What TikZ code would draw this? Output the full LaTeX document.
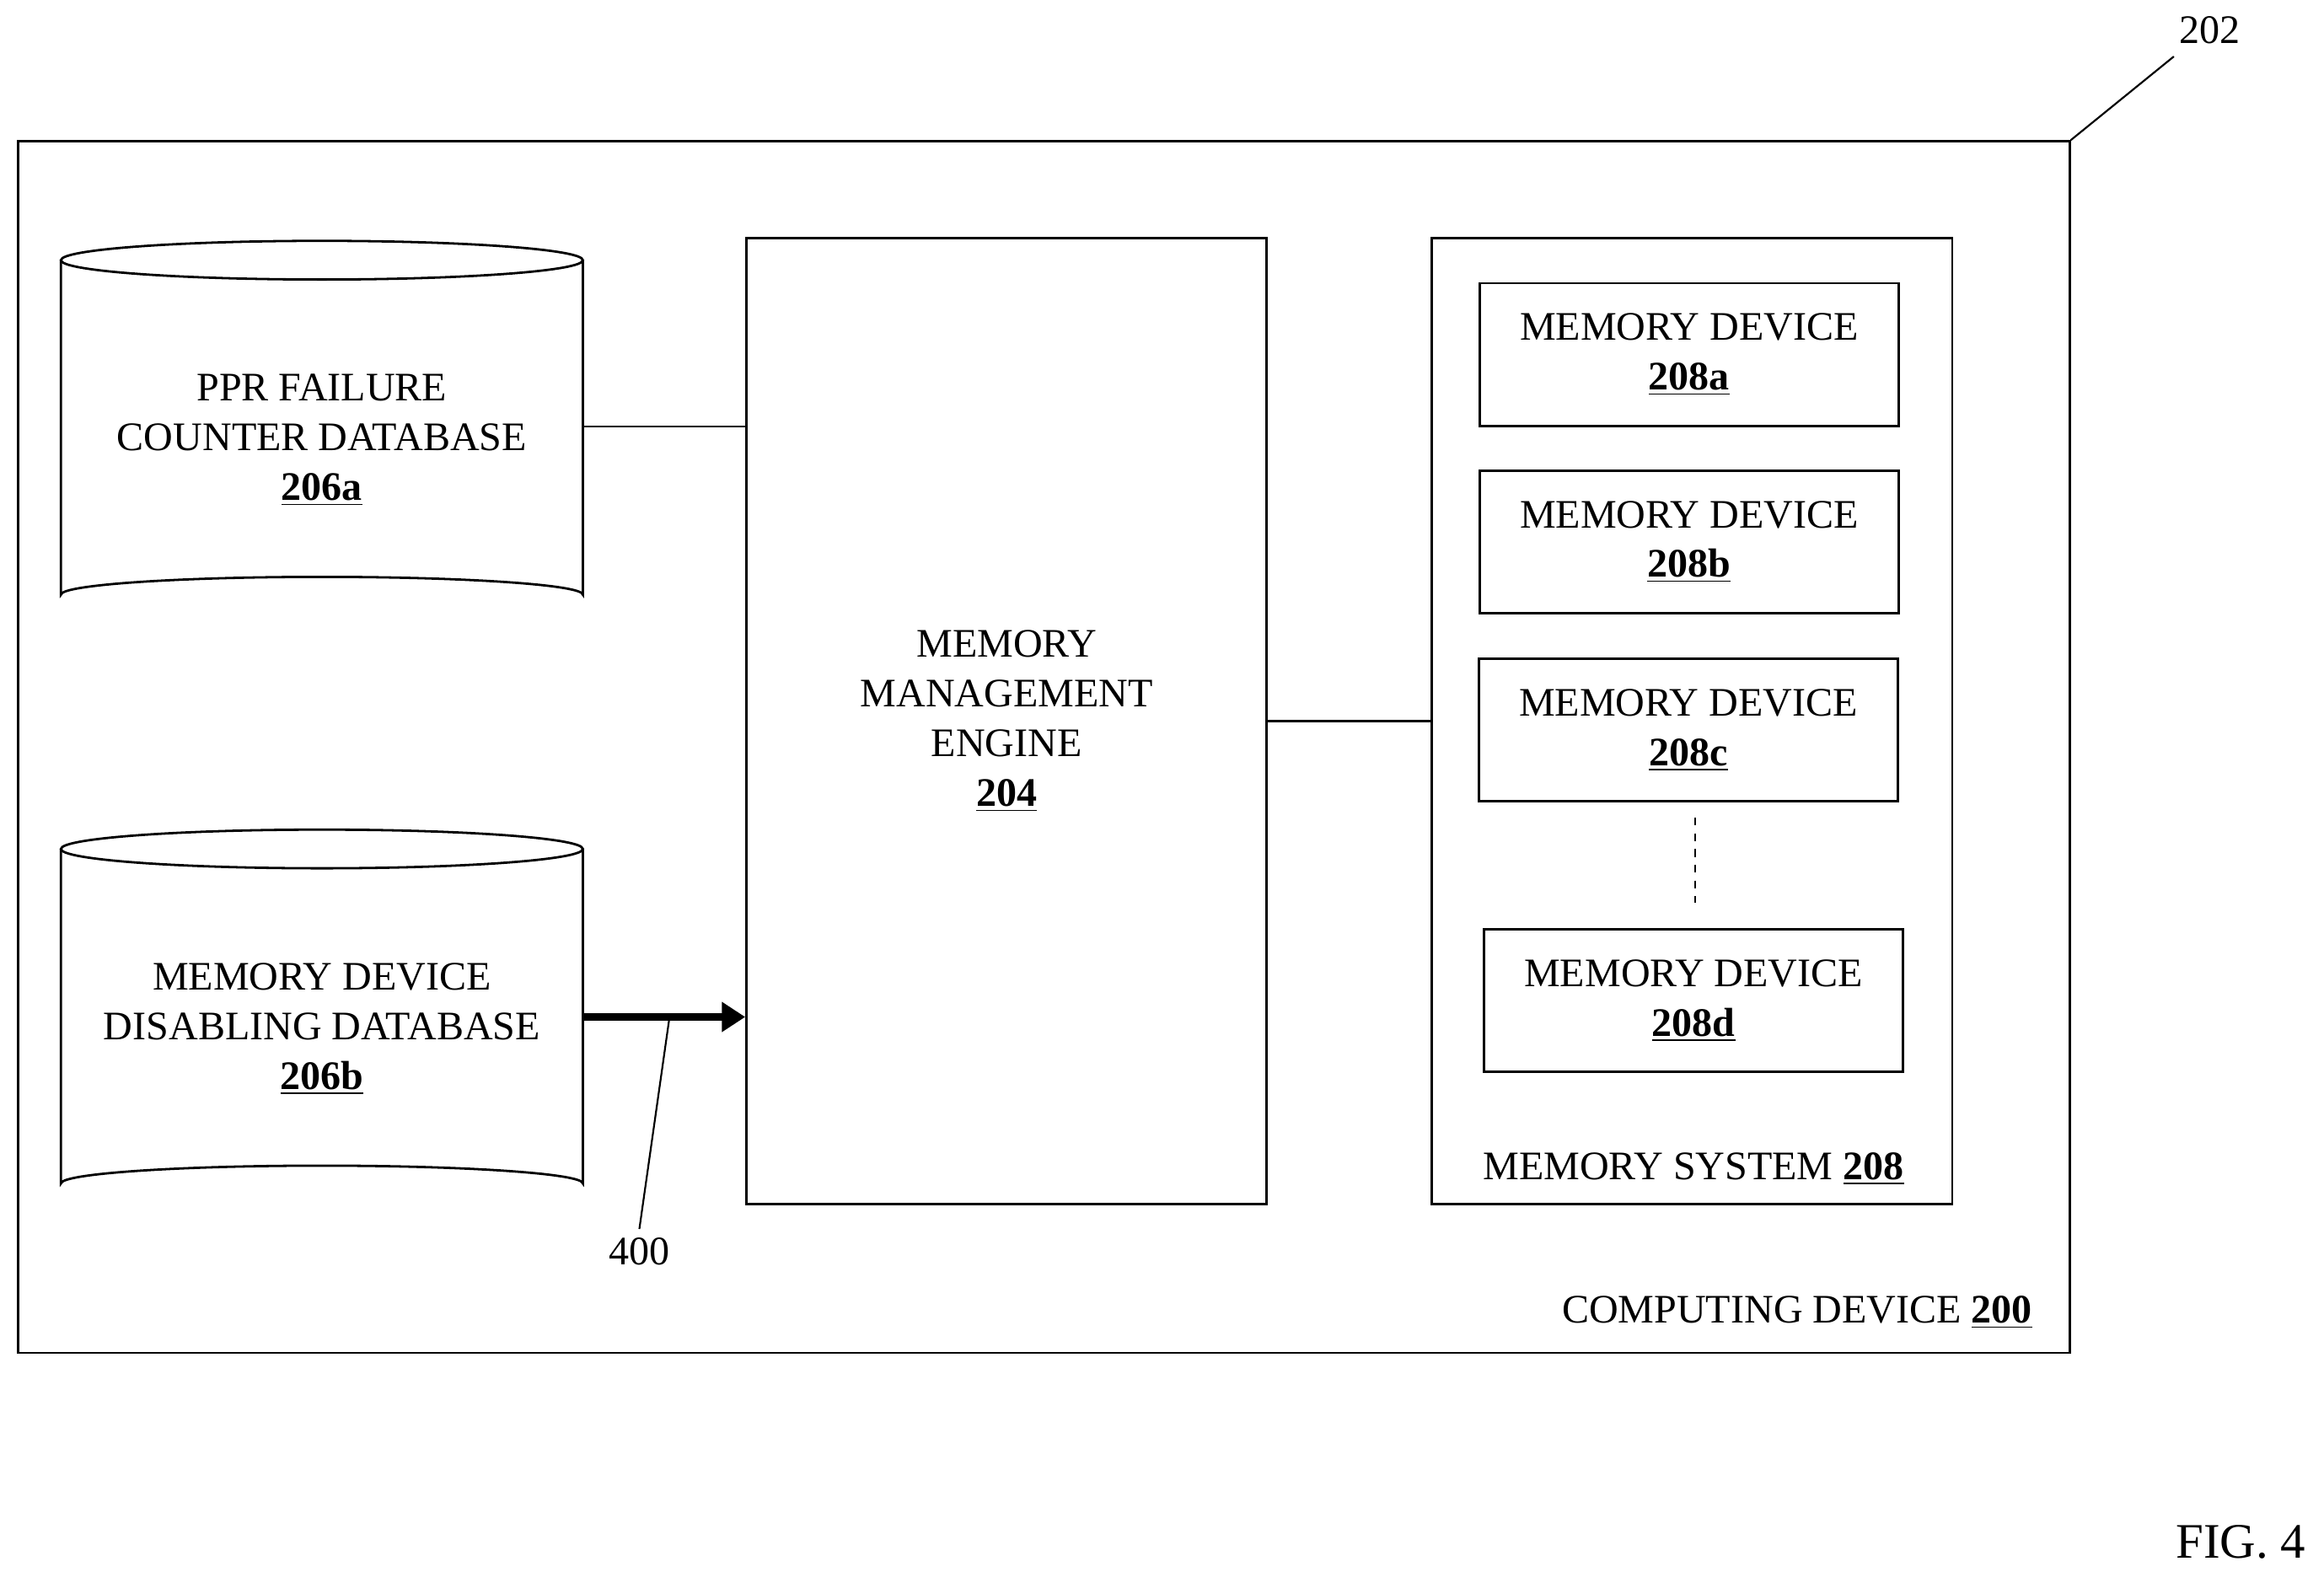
\documentclass[tikz,border=0pt]{standalone}
\usepackage{fontspec}
\setmainfont{Liberation Serif}
\usetikzlibrary{positioning,arrows.meta}
\begin{document}
\begin{tikzpicture}[x=0.02cm,y=-0.02cm,font=\fontsize{15.5}{19}\selectfont]
    \tikzstyle{box} = [draw, line width=0.9pt, rectangle, align=center, inner sep=0pt]
    \tikzstyle{dev} = [box, minimum width=5.64cm, minimum height=1.92cm]
    \tikzstyle{ln} = [line width=0.7pt]
    \useasboundingbox (0,0) rectangle (1563,1057);
    \node[box, minimum width=27.6cm, minimum height=16.3cm] (comp) at (702,502.5) {};
    \node[anchor=south east] (complab) at (1373,900) {COMPUTING DEVICE \underline{\textbf{200}}};
    \node (ref202) at (1486,20) {202};
    \draw[ln] (comp.north east) -- (1462,38);
    % databases
    \node[align=center, minimum width=7.02cm, minimum height=5cm] (ppr) at (216.5,296) {PPR FAILURE\\COUNTER DATABASE\\\underline{\textbf{206a}}};
    \node[align=center, minimum width=7.02cm, minimum height=5cm] (dis) at (216.5,692) {MEMORY DEVICE\\DISABLING DATABASE\\\underline{\textbf{206b}}};
    \foreach \c/\t in {ppr/175, dis/571} {
        \draw[line width=0.9pt] (216.5,\t) ellipse [x radius=175.5, y radius=13];
        \draw[line width=0.9pt] (41,\t) -- (41,\t+225) arc[start angle=180, end angle=360, x radius=175.5, y radius=12] -- (392,\t);
    }
    \node[box, minimum width=7cm, minimum height=13cm] (eng) at (677,485) {MEMORY\\MANAGEMENT\\ENGINE\\\underline{\textbf{204}}};
    \node[box, minimum width=7cm, minimum height=13cm] (msys) at (1138,485) {};
    \node (msyslab) at (1139,786) {MEMORY SYSTEM \underline{\textbf{208}}};
    \node[dev] (d1) at (1136,238.5) {MEMORY DEVICE\\\underline{\textbf{208a}}};
    \node[dev] (d2) at (1136,364.5) {MEMORY DEVICE\\\underline{\textbf{208b}}};
    \node[dev] (d3) at (1135.5,491) {MEMORY DEVICE\\\underline{\textbf{208c}}};
    \node[dev] (d4) at (1139,673) {MEMORY DEVICE\\\underline{\textbf{208d}}};
    \draw[ln, dashed] (1140,550) -- (1140,607);
    \draw[ln] (392,287) -- (eng.west |- 0,287);
    \draw[ln] (eng.east) -- (msys.west);
    \draw[line width=3pt, -{Triangle[length=9pt,width=11pt]}] (392,684) -- (eng.west |- 0,684);
    \node (ref400) at (430,842) {400};
    \draw[ln] (450,686) -- (ref400.north);
    \node (fig) at (1507,1037) {\fontsize{19}{22}\selectfont FIG. 4};
\end{tikzpicture}
\end{document}
